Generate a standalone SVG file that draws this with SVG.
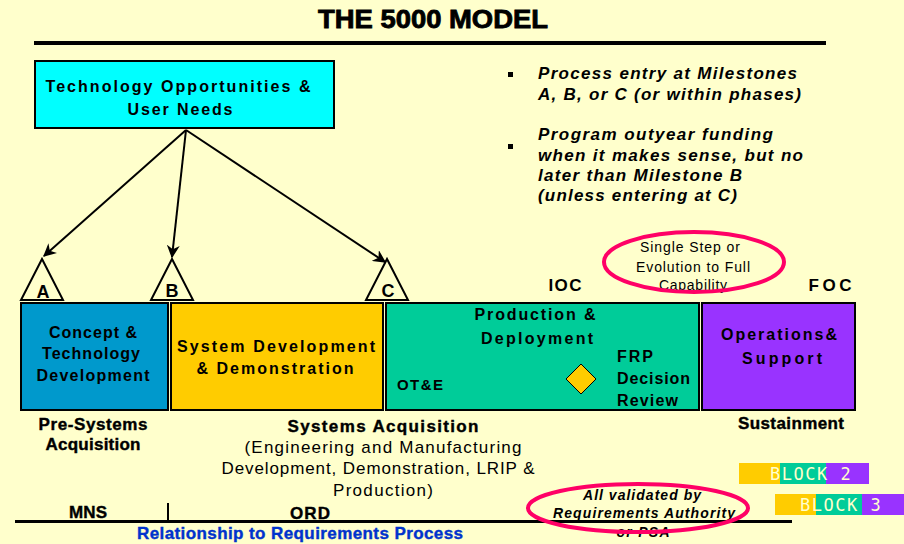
<svg xmlns="http://www.w3.org/2000/svg" width="904" height="544" viewBox="0 0 904 544">
<defs>
<marker id="ah" viewBox="0 0 10 10" refX="9" refY="5" markerWidth="6.5" markerHeight="6.5" orient="auto" markerUnits="strokeWidth">
<path d="M0,0 L10,5 L0,10 L3,5 z" fill="#000"/>
</marker>
<style>
text{font-family:"Liberation Sans",Arial,sans-serif;fill:#000}
.b{font-weight:bold}
.box{stroke:#000;stroke-width:2}
.ph{font-size:16px;font-weight:bold;text-anchor:middle}
.lbl{font-size:17px;font-weight:bold;text-anchor:middle}
.hv{stroke:#000;stroke-width:0.4}
.bi{font-size:17px;font-weight:bold;font-style:italic}
.tri{fill:#FFFFCC;stroke:#000;stroke-width:2}
.ms{font-size:18px;font-weight:bold;text-anchor:middle}
.ell{fill:none;stroke:#FF0066;stroke-width:4}
.conn{stroke:#000;stroke-width:2;fill:none;marker-end:url(#ah)}
.blk{font-family:"DejaVu Sans Mono","Liberation Mono",monospace;font-size:17px;fill:#FFFFCC;letter-spacing:1.5px}
.sm{font-size:14px;text-anchor:middle}
.vi{font-size:14px;font-weight:bold;font-style:italic;text-anchor:middle}
</style>
</defs>
<rect width="904" height="544" fill="#FFFFCC"/>
<text x="433" y="28" class="b" font-size="25" text-anchor="middle" textLength="230" lengthAdjust="spacingAndGlyphs" stroke="#000" stroke-width="0.8">THE 5000 MODEL</text>
<rect x="34" y="41" width="792" height="4" fill="#000"/>

<g id="tech">
<rect x="35" y="61" width="299" height="67" fill="#00FFFF" class="box"/>
<text x="178" y="92" class="ph" textLength="265" lengthAdjust="spacing">Technology Opportunities &amp;</text>
<text x="180" y="115" class="ph" textLength="105" lengthAdjust="spacing">User Needs</text>
</g>

<g id="connectors">
<line x1="186" y1="130" x2="44" y2="256" class="conn"/>
<line x1="186" y1="130" x2="172" y2="257" class="conn"/>
<line x1="186" y1="130" x2="385" y2="262" class="conn"/>
</g>

<g id="msA"><polygon points="42,259 21,300 63,300" class="tri"/><text x="43" y="298" class="ms">A</text></g>
<g id="msB"><polygon points="172,259 151,300 193,300" class="tri"/><text x="172" y="297" class="ms">B</text></g>
<g id="msC"><polygon points="387,259 366,300 408,300" class="tri"/><text x="388" y="297" class="ms">C</text></g>

<g id="concept">
<rect x="21" y="303" width="147" height="107" fill="#0099CC" class="box"/>
<text x="93" y="338" class="ph" textLength="88" lengthAdjust="spacing">Concept &amp;</text>
<text x="91" y="359" class="ph" textLength="98" lengthAdjust="spacing">Technology</text>
<text x="93" y="381" class="ph" textLength="113" lengthAdjust="spacing">Development</text>
</g>
<g id="sdd">
<rect x="171" y="303" width="212" height="107" fill="#FFCC00" class="box"/>
<text x="276" y="352" class="ph" textLength="198" lengthAdjust="spacing">System Development</text>
<text x="275" y="374" class="ph" textLength="157" lengthAdjust="spacing">&amp; Demonstration</text>
</g>
<g id="prod">
<rect x="386" y="303" width="313" height="107" fill="#00CC99" class="box"/>
<text x="535" y="320" class="ph" textLength="121" lengthAdjust="spacing">Production &amp;</text>
<text x="537" y="344" class="ph" textLength="112" lengthAdjust="spacing">Deployment</text>
<text x="397" y="390" class="b" font-size="15" textLength="46" lengthAdjust="spacing">OT&amp;E</text>
<polygon points="581,364 596,379 581,394 566,379" fill="#FFCC00" stroke="#000" stroke-width="1"/>
<text x="617" y="362" class="b" font-size="16" textLength="36" lengthAdjust="spacing">FRP</text>
<text x="617" y="384" class="b" font-size="16" textLength="73" lengthAdjust="spacing">Decision</text>
<text x="617" y="406" class="b" font-size="16" textLength="61" lengthAdjust="spacing">Review</text>
</g>
<g id="ops">
<rect x="702" y="303" width="153" height="107" fill="#9933FF" class="box"/>
<text x="779" y="340" class="ph" textLength="116" lengthAdjust="spacing">Operations&amp;</text>
<text x="782" y="364" class="ph" textLength="80" lengthAdjust="spacing">Support</text>
</g>

<text x="565" y="291" class="lbl" font-size="18" textLength="33" lengthAdjust="spacing">IOC</text>
<text x="830" y="291" class="lbl" font-size="18" textLength="43" lengthAdjust="spacing">FOC</text>

<g id="notes">
<rect x="508" y="72" width="5" height="5" fill="#000"/>
<text x="538" y="79" class="bi" textLength="259" lengthAdjust="spacing">Process entry at Milestones</text>
<text x="538" y="100" class="bi" textLength="263" lengthAdjust="spacing">A, B, or C (or within phases)</text>
<rect x="508" y="144" width="5" height="5" fill="#000"/>
<text x="538" y="140" class="bi" textLength="235" lengthAdjust="spacing">Program outyear funding</text>
<text x="538" y="161" class="bi" textLength="265" lengthAdjust="spacing">when it makes sense, but no</text>
<text x="538" y="181" class="bi" textLength="204" lengthAdjust="spacing">later than Milestone B</text>
<text x="538" y="201" class="bi" textLength="199" lengthAdjust="spacing">(unless entering at C)</text>
</g>

<g id="single">
<text x="690" y="252" class="sm" textLength="100" lengthAdjust="spacing">Single Step or</text>
<text x="693" y="272" class="sm" textLength="114" lengthAdjust="spacing">Evolution to Full</text>
<text x="693" y="290" class="sm" textLength="68" lengthAdjust="spacing">Capability</text>
<ellipse cx="694" cy="262" rx="90" ry="30" class="ell"/>
</g>

<text x="93" y="430" class="lbl hv" textLength="109" lengthAdjust="spacing">Pre-Systems</text>
<text x="93" y="450" class="lbl hv" textLength="95" lengthAdjust="spacing">Acquisition</text>
<text x="383" y="432" class="lbl hv" textLength="191" lengthAdjust="spacing">Systems Acquisition</text>
<text x="383" y="453" font-size="17" text-anchor="middle" textLength="277" lengthAdjust="spacing">(Engineering and Manufacturing</text>
<text x="378" y="474" font-size="17" text-anchor="middle" textLength="313" lengthAdjust="spacing">Development, Demonstration, LRIP &amp;</text>
<text x="383" y="496" font-size="17" text-anchor="middle" textLength="100" lengthAdjust="spacing">Production)</text>
<text x="791" y="429" class="lbl hv" textLength="106" lengthAdjust="spacing">Sustainment</text>

<rect x="15" y="520" width="777" height="3" fill="#000"/>
<line x1="168" y1="503" x2="168" y2="521" stroke="#000" stroke-width="2"/>
<text x="88" y="518" class="lbl hv" textLength="38" lengthAdjust="spacing">MNS</text>
<text x="310" y="519" class="lbl hv" textLength="40" lengthAdjust="spacing">ORD</text>
<text x="300" y="539" class="lbl" font-size="16" style="fill:#0033CC;stroke:#0033CC;stroke-width:0.4" textLength="326" lengthAdjust="spacing">Relationship to Requirements Process</text>

<g id="validated">
<text x="642" y="500" class="vi" textLength="118" lengthAdjust="spacing">All validated by</text>
<text x="644" y="518" class="vi" textLength="182" lengthAdjust="spacing">Requirements Authority</text>
<text x="643" y="537" class="vi" textLength="53" lengthAdjust="spacing">or PSA</text>
<ellipse cx="638" cy="508" rx="110" ry="24" class="ell"/>
</g>

<g id="block2">
<rect x="739" y="463" width="41" height="21" fill="#FFCC00"/>
<rect x="780" y="463" width="46" height="21" fill="#00CC99"/>
<rect x="826" y="463" width="43" height="21" fill="#9933FF"/>
<text x="770" y="480" class="blk">BLOCK 2</text>
</g>
<g id="block3">
<rect x="775" y="494" width="41" height="21" fill="#FFCC00"/>
<rect x="816" y="494" width="46" height="21" fill="#00CC99"/>
<rect x="862" y="494" width="42" height="21" fill="#9933FF"/>
<text x="800" y="511" class="blk">BLOCK 3</text>
</g>
</svg>
